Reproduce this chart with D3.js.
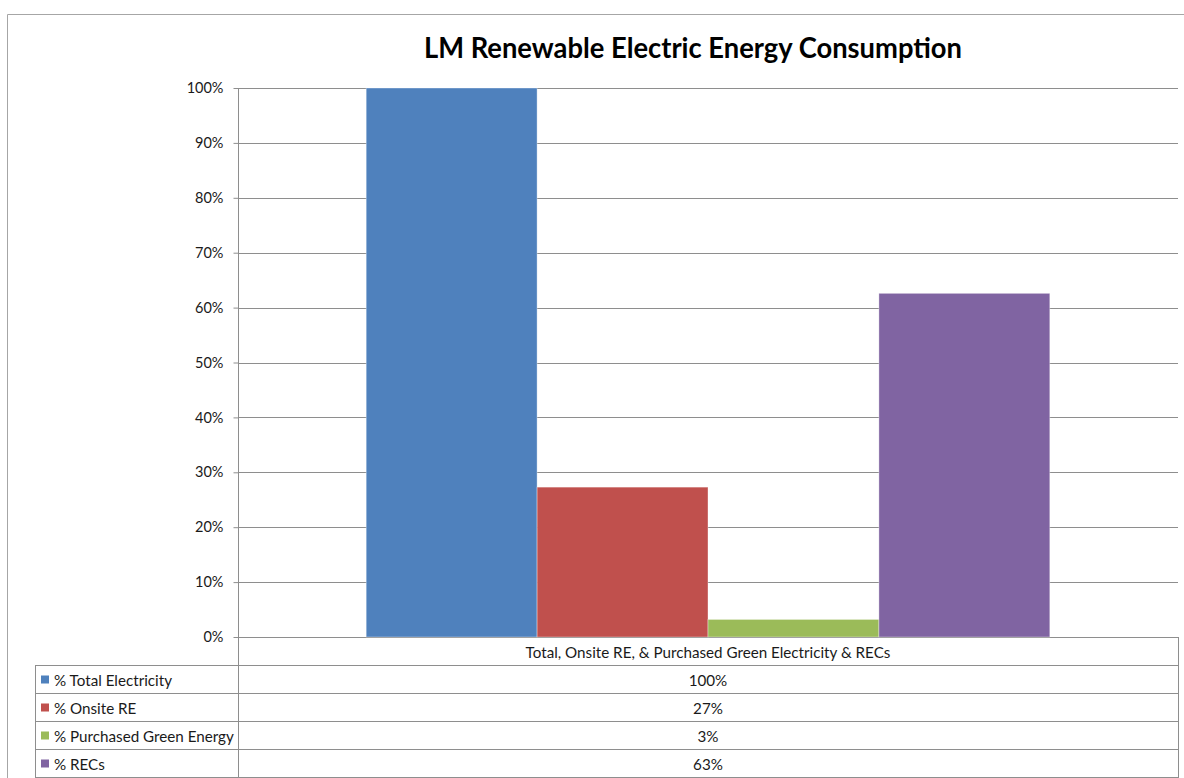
<!DOCTYPE html>
<html>
<head>
<meta charset="utf-8">
<script src="https://cdn.jsdelivr.net/npm/d3@7"></script>
<style>
  html, body { margin: 0; padding: 0; background: #fff; }
  svg { display: block; }
  text { font-family: Lato, "Open Sans", sans-serif; fill: #1a1a1a; }
</style>
</head>
<body>
<svg id="chart" width="1184" height="778"></svg>
<script>
// Chart data
const title = "LM Renewable Electric Energy Consumption";
const category = "Total, Onsite RE, & Purchased Green Electricity & RECs";
const seriesNames = ["% Total Electricity", "% Onsite RE", "% Purchased Green Energy", "% RECs"];
const seriesValues = [1.00, 0.273, 0.032, 0.626];
const seriesColors = ["#4f81bd", "#c0504d", "#9bbb59", "#8064a2"];
const yTicks = [0, 0.1, 0.2, 0.3, 0.4, 0.5, 0.6, 0.7, 0.8, 0.9, 1.0];

const svg = d3.select("#chart");

// Layout
const plot = { left: 238, right: 1178, top: 88, bottom: 637 };
const table = { left: 35, top: 665, rowH: 28 };
const gridColor = "#8e8e8e";
const labelSize = 15.2;

// Outer chart frame
svg.append("path")
  .attr("d", "M7.5,778 L7.5,14.5 L1184,14.5")
  .attr("fill", "none")
  .attr("stroke", "#a6a6a6")
  .attr("stroke-width", 1);

// Title
svg.append("text")
  .attr("x", 693)
  .attr("y", 58)
  .attr("text-anchor", "middle")
  .attr("font-weight", "bold")
  .attr("font-size", 29)
  .attr("textLength", 538)
  .attr("lengthAdjust", "spacingAndGlyphs")
  .style("fill", "#000")
  .text(title);

// Scales
const y = d3.scaleLinear().domain([0, 1]).range([plot.bottom, plot.top]);
// Excel-style gap width of 150% around one category holding four bars
const x0 = d3.scaleBand().domain([category]).range([plot.left, plot.right])
  .paddingInner(0).paddingOuter(0.1875);
const x1 = d3.scaleBand().domain(seriesNames).range([0, x0.bandwidth()]).padding(0);

// Gridlines
svg.append("g")
  .selectAll("line")
  .data(yTicks)
  .join("line")
  .attr("x1", plot.left)
  .attr("x2", plot.right)
  .attr("y1", d => Math.round(y(d)) + 0.5)
  .attr("y2", d => Math.round(y(d)) + 0.5)
  .attr("stroke", gridColor)
  .attr("stroke-width", 1);

// Bars
svg.append("g")
  .selectAll("rect")
  .data(seriesNames.map((n, i) => ({ name: n, value: seriesValues[i], color: seriesColors[i] })))
  .join("rect")
  .attr("x", d => x0(category) + x1(d.name))
  .attr("y", d => y(d.value))
  .attr("width", x1.bandwidth())
  .attr("height", d => y(0) - y(d.value))
  .attr("fill", d => d.color)
  .attr("stroke", "rgba(255,255,255,0.45)")
  .attr("stroke-width", 0.8);

// Y axis
const yAxis = d3.axisLeft(y)
  .tickValues(yTicks)
  .tickFormat(d3.format(".0%"))
  .tickSizeInner(5)
  .tickSizeOuter(0)
  .tickPadding(10);
const yg = svg.append("g")
  .attr("transform", `translate(${plot.left + 0.5},0)`)
  .call(yAxis);
yg.select(".domain").remove();
yg.selectAll(".tick line").attr("stroke", gridColor);
yg.selectAll(".tick text")
  .attr("font-size", 14.5)
  .attr("font-family", "Lato, 'Open Sans', sans-serif")
  .style("fill", "#1a1a1a");

// Vertical axis line continues down through the data table
const tableBottom = table.top + table.rowH * seriesNames.length;
svg.append("line")
  .attr("x1", plot.left + 0.5).attr("x2", plot.left + 0.5)
  .attr("y1", plot.top).attr("y2", tableBottom)
  .attr("stroke", gridColor);

// Category label row (between the axis and the table)
svg.append("line")
  .attr("x1", plot.right + 0.5).attr("x2", plot.right + 0.5)
  .attr("y1", plot.bottom).attr("y2", tableBottom)
  .attr("stroke", gridColor);
svg.append("text")
  .attr("x", x0(category) + x0.bandwidth() / 2)
  .attr("y", (plot.bottom + table.top) / 2 + 1)
  .attr("text-anchor", "middle")
  .attr("dominant-baseline", "central")
  .attr("font-size", labelSize)
  .text(category);

// Data table
const rows = svg.append("g");
d3.range(seriesNames.length + 1).forEach(i => {
  rows.append("line")
    .attr("x1", table.left).attr("x2", plot.right + 1)
    .attr("y1", table.top + i * table.rowH + 0.5)
    .attr("y2", table.top + i * table.rowH + 0.5)
    .attr("stroke", gridColor);
});
rows.append("line")
  .attr("x1", table.left + 0.5).attr("x2", table.left + 0.5)
  .attr("y1", table.top).attr("y2", tableBottom)
  .attr("stroke", gridColor);

const fmt = d3.format(".0%");
seriesNames.forEach((name, i) => {
  const cy = table.top + i * table.rowH + table.rowH / 2 + 0.5;
  rows.append("rect")
    .attr("x", 41).attr("y", cy - 4)
    .attr("width", 8).attr("height", 8)
    .attr("fill", seriesColors[i]);
  rows.append("text")
    .attr("x", 54).attr("y", cy)
    .attr("dominant-baseline", "central")
    .attr("font-size", labelSize)
    .text(name);
  rows.append("text")
    .attr("x", x0(category) + x0.bandwidth() / 2)
    .attr("y", cy)
    .attr("text-anchor", "middle")
    .attr("dominant-baseline", "central")
    .attr("font-size", labelSize)
    .text(fmt(seriesValues[i]));
});
</script>
</body>
</html>
